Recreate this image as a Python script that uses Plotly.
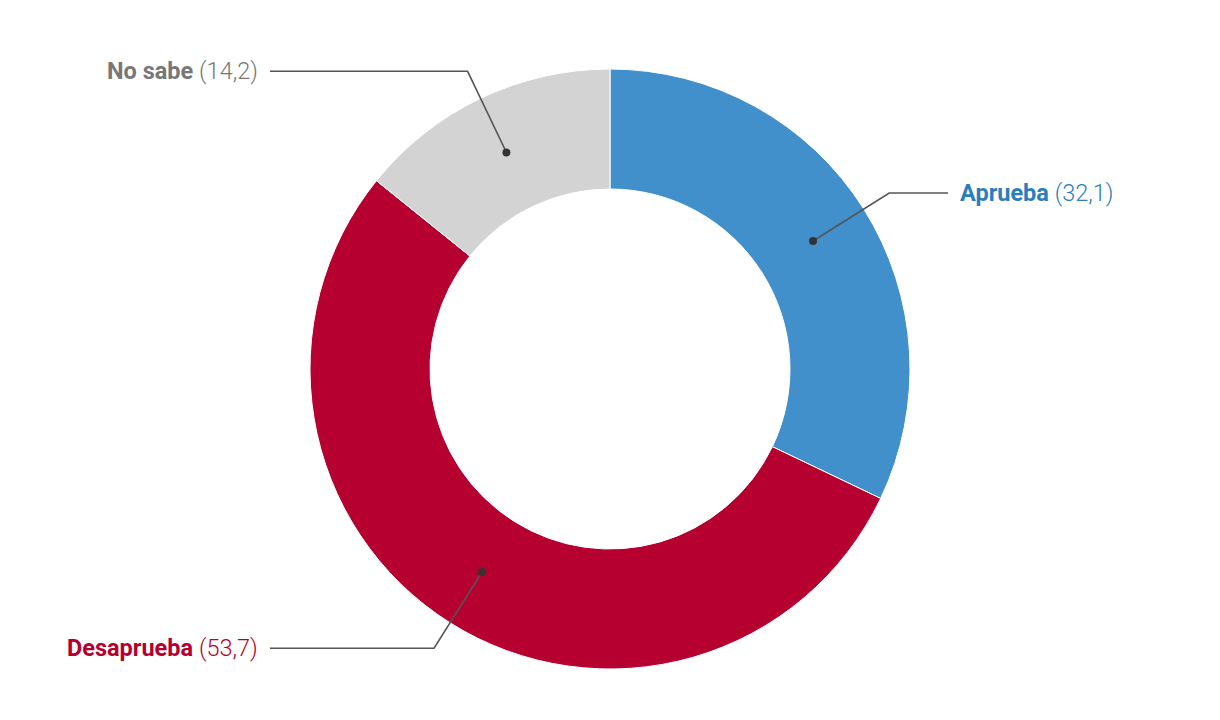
import math
import plotly.graph_objects as go

# ---- data ----
categories = ["Aprueba", "Desaprueba", "No sabe"]
values = [32.1, 53.7, 14.2]
value_labels = ["32,1", "53,7", "14,2"]

# ---- style ----
slice_colors = ["#418fcb", "#b50030", "#d3d3d3"]
text_colors = ["#2b7dbb", "#b5002f", "#777777"]
sides = ["right", "left", "left"]

W, H = 1220, 720
OFF = 8                    # page body margin offset
CX, CY = 610 - OFF, 369 - OFF   # donut centre (px in figure)
R_OUT = 300
HOLE = 0.6
R_DOT = R_OUT * (1 + HOLE) / 2
R_ELBOW = 330
X_LINE_END = {"right": 948 - OFF, "left": 270 - OFF}
X_TEXT = {"right": 958 - OFF, "left": 260 - OFF}

def px(x):
    return x / W

def py(y):
    return 1 - y / H

fig = go.Figure(go.Pie(
    labels=categories,
    values=values,
    hole=HOLE,
    sort=False,
    direction="clockwise",
    rotation=0,
    marker=dict(colors=slice_colors, line=dict(color="white", width=1)),
    textinfo="none",
    hoverinfo="label+value",
    showlegend=False,
    domain=dict(x=[px(CX - R_OUT), px(CX + R_OUT)], y=[py(CY + R_OUT), py(CY - R_OUT)]),
))

shapes = []
annotations = []
total = sum(values)
cum = 0.0
for cat, v, lab, tc, side in zip(categories, values, value_labels, text_colors, sides):
    mid = (cum + v / 2) / total * 2 * math.pi
    cum += v
    dx, dy = math.sin(mid), -math.cos(mid)
    x0, y0 = CX + R_DOT * dx, CY + R_DOT * dy
    x1, y1 = CX + R_ELBOW * dx, CY + R_ELBOW * dy
    x2 = X_LINE_END[side]
    shapes.append(dict(type="path", xref="paper", yref="paper",
                       path=f"M {px(x0)} {py(y0)} L {px(x1)} {py(y1)} L {px(x2)} {py(y1)}",
                       line=dict(color="#555555", width=1.6)))
    shapes.append(dict(type="circle", xref="paper", yref="paper",
                       x0=px(x0 - 4), x1=px(x0 + 4), y0=py(y0 + 4), y1=py(y0 - 4),
                       fillcolor="#333333", line=dict(color="#333333", width=0)))
    annotations.append(dict(
        xref="paper", yref="paper", x=px(X_TEXT[side]), y=py(y1),
        xanchor="left" if side == "right" else "right", yanchor="middle",
        text=f"<b>{cat}</b> <span style='font-weight:300'>({lab})</span>",
        showarrow=False,
        font=dict(family="Roboto, Arial, sans-serif", size=23.5, color=tc),
    ))

fig.update_layout(
    width=W, height=H,
    margin=dict(l=0, r=0, t=0, b=0),
    paper_bgcolor="white", plot_bgcolor="white",
    shapes=shapes, annotations=annotations,
)

fig.write_html("out.html")
